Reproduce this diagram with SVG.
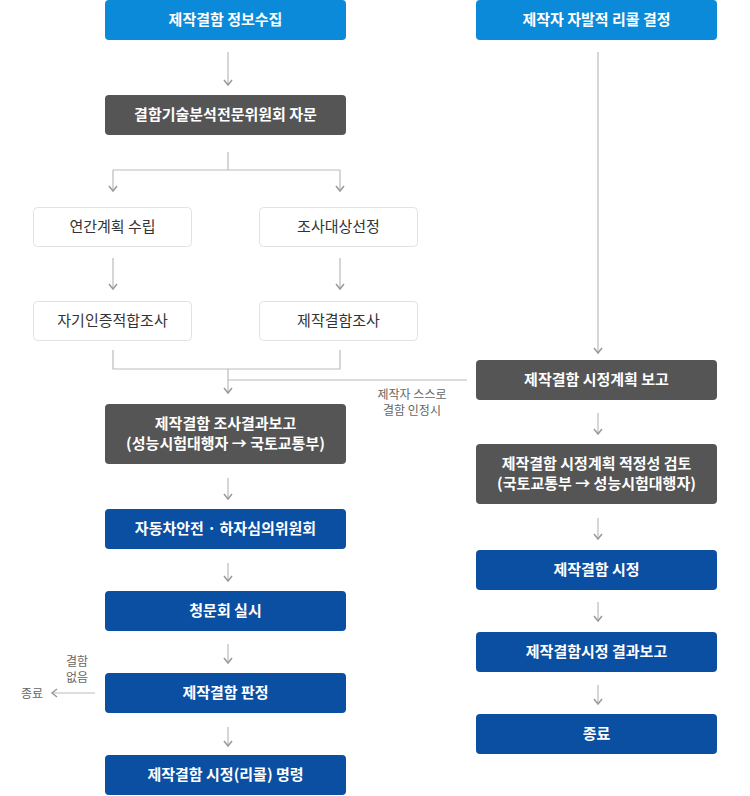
<svg xmlns="http://www.w3.org/2000/svg" width="750" height="796" viewBox="0 0 750 796">
<defs>
<marker id="a" markerWidth="10" markerHeight="10" refX="5" refY="7" orient="auto" markerUnits="userSpaceOnUse" viewBox="0 0 10 10"><path d="M1,3 L5,7 L9,3" fill="none" stroke="#aaa" stroke-width="1.5" transform="rotate(-90 5 7) translate(0,0)"/></marker>
<marker id="c" markerWidth="12" markerHeight="12" refX="6" refY="6" orient="auto" markerUnits="userSpaceOnUse" viewBox="0 0 12 12"><path d="M2,2 L7,6 L2,10" fill="none" stroke="#999" stroke-width="1.5"/></marker>
</defs>
<style>
text{font-family:"Noto Sans CJK KR","Noto Sans",sans-serif;text-anchor:middle}
.lb rect{fill:#0a8ad8}.g rect{fill:#555}.b rect{fill:#0b4fa3}
.w rect{fill:#fff;stroke:#e2e2e2}
.lb text,.g text,.b text{fill:#fff;font-size:15px;font-weight:bold}
.w text{fill:#333;font-size:15px}
.s{fill:#666;font-size:12px}
#conn path{fill:none;stroke:#bbb;stroke-width:1.2}
.ar{marker-end:url(#c)}
</style>
<g id="conn">
<path class="ar" d="M228,52V84"/>
<path d="M228,152V170M113,170H340"/>
<path class="ar" d="M113,170V190"/><path class="ar" d="M340,170V190"/>
<path class="ar" d="M113,258V288"/><path class="ar" d="M340,258V288"/>
<path d="M113,350V369H340V350"/>
<path class="ar" d="M228,369V392"/>
<path d="M467,380H228"/>
<path class="ar" d="M228,478V498"/>
<path class="ar" d="M228,563V580"/>
<path class="ar" d="M228,644V662"/>
<path class="ar" d="M228,727V745"/>
<path class="ar" d="M95,693H53"/>
<path class="ar" d="M598,52V352"/>
<path class="ar" d="M598,413V433"/>
<path class="ar" d="M598,518V538"/>
<path class="ar" d="M598,602V620"/>
<path class="ar" d="M598,685V703"/>
</g>
<g id="n1" class="lb"><rect x="105" y="0" width="241" height="40" rx="4"/><text x="225.5" y="25">제작결함 정보수집</text></g>
<g id="n2" class="g"><rect x="105" y="95" width="241" height="40" rx="4"/><text x="225.5" y="120">결함기술분석전문위원회 자문</text></g>
<g id="n3" class="w"><rect x="33.5" y="207.5" width="158" height="39" rx="4"/><text x="112.5" y="232">연간계획 수립</text></g>
<g id="n4" class="w"><rect x="259.5" y="207.5" width="158" height="39" rx="4"/><text x="338.5" y="232">조사대상선정</text></g>
<g id="n5" class="w"><rect x="33.5" y="301.5" width="158" height="39" rx="4"/><text x="112.5" y="326">자기인증적합조사</text></g>
<g id="n6" class="w"><rect x="259.5" y="301.5" width="158" height="39" rx="4"/><text x="338.5" y="326">제작결함조사</text></g>
<g id="n7" class="g"><rect x="105" y="404" width="241" height="60" rx="4"/><text x="225.5" y="429">제작결함 조사결과보고</text><text x="225.5" y="449">(성능시험대행자 → 국토교통부)</text></g>
<g id="n8" class="b"><rect x="105" y="509" width="241" height="40" rx="4"/><text x="225.5" y="534">자동차안전 · 하자심의위원회</text></g>
<g id="n9" class="b"><rect x="105" y="591" width="241" height="40" rx="4"/><text x="225.5" y="616">청문회 실시</text></g>
<g id="n10" class="b"><rect x="105" y="673" width="241" height="40" rx="4"/><text x="225.5" y="698">제작결함 판정</text></g>
<g id="n11" class="b"><rect x="105" y="755" width="241" height="40" rx="4"/><text x="225.5" y="780">제작결함 시정(리콜) 명령</text></g>
<g id="n12" class="lb"><rect x="476" y="0" width="241" height="40" rx="4"/><text x="596.5" y="25">제작자 자발적 리콜 결정</text></g>
<g id="n13" class="g"><rect x="476" y="360" width="241" height="40" rx="4"/><text x="596.5" y="385">제작결함 시정계획 보고</text></g>
<g id="n14" class="g"><rect x="476" y="444" width="241" height="60" rx="4"/><text x="596.5" y="469">제작결함 시정계획 적정성 검토</text><text x="596.5" y="489">(국토교통부 → 성능시험대행자)</text></g>
<g id="n15" class="b"><rect x="476" y="550" width="241" height="40" rx="4"/><text x="596.5" y="575">제작결함 시정</text></g>
<g id="n16" class="b"><rect x="476" y="632" width="241" height="40" rx="4"/><text x="596.5" y="657">제작결함시정 결과보고</text></g>
<g id="n17" class="b"><rect x="476" y="714" width="241" height="40" rx="4"/><text x="596.5" y="739">종료</text></g>
<g id="labels">
<text class="s" x="412" y="399">제작자 스스로</text>
<text class="s" x="412" y="415">결함 인정시</text>
<text class="s" x="77" y="666">결함</text>
<text class="s" x="77" y="682">없음</text>
<text class="s" x="32" y="698">종료</text>
</g>
</svg>
